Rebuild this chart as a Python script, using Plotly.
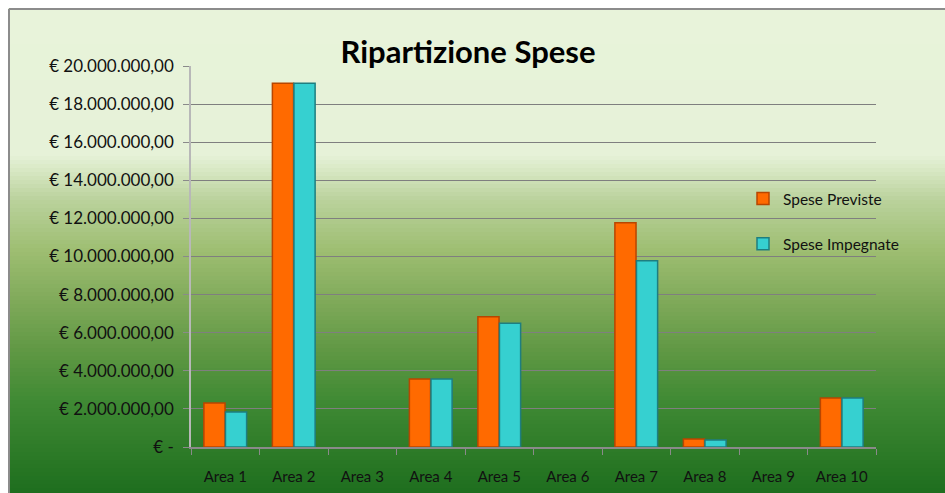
import plotly.graph_objects as go

categories = ["Area 1", "Area 2", "Area 3", "Area 4", "Area 5", "Area 6", "Area 7", "Area 8", "Area 9", "Area 10"]
spese_previste = [2310000, 19100000, 0, 3570000, 6840000, 0, 11770000, 420000, 0, 2570000]
spese_impegnate = [1840000, 19100000, 0, 3570000, 6490000, 0, 9780000, 370000, 0, 2570000]
tick_vals = [0, 2e6, 4e6, 6e6, 8e6, 10e6, 12e6, 14e6, 16e6, 18e6, 20e6]
tick_text = ["€ -", "€ 2.000.000,00", "€ 4.000.000,00", "€ 6.000.000,00", "€ 8.000.000,00",
             "€ 10.000.000,00", "€ 12.000.000,00", "€ 14.000.000,00", "€ 16.000.000,00",
             "€ 18.000.000,00", "€ 20.000.000,00"]

W, H = 945, 493
L, R, T, B = 191, 945 - 876, 66, 493 - 447
pw, ph = W - L - R, H - T - B

def px2x(px):
    return (px - L) / pw

def px2y(py):
    return (H - B - py) / ph

# background gradient stops (pixel y, rgb)
stops = [(8, (232, 243, 218)), (155, (230, 242, 216)), (170, (216, 232, 196)),
         (200, (186, 210, 156)), (250, (158, 190, 114)), (300, (128, 170, 90)),
         (350, (96, 152, 68)), (400, (64, 138, 52)), (493, (30, 110, 30))]

def color_at(py):
    for (y0, c0), (y1, c1) in zip(stops[:-1], stops[1:]):
        if y0 <= py <= y1:
            t = (py - y0) / (y1 - y0) if y1 > y0 else 0
            return tuple(round(a + (b - a) * t) for a, b in zip(c0, c1))
    return stops[-1][1]

shapes = []
step = 4
y = 8
while y < H:
    y2 = min(y + step, H)
    c = color_at((y + y2) / 2)
    shapes.append(dict(type="rect", xref="paper", yref="paper", layer="below",
                       x0=px2x(8), x1=px2x(W + 5), y0=px2y(y2 + 0.5), y1=px2y(y),
                       fillcolor="rgb(%d,%d,%d)" % c, line=dict(width=0)))
    y = y2
# top and left border lines
shapes.append(dict(type="line", xref="paper", yref="paper", layer="below",
                   x0=px2x(9), x1=px2x(W + 5), y0=px2y(9), y1=px2y(9),
                   line=dict(width=2, color="#8c8c8c")))
shapes.append(dict(type="line", xref="paper", yref="paper", layer="below",
                   x0=px2x(9), x1=px2x(9), y0=px2y(9), y1=px2y(H + 5),
                   line=dict(width=2, color="#8c8c8c")))

lw_a = [0 if v == 0 else 1.5 for v in spese_previste]
lw_b = [0 if v == 0 else 1.5 for v in spese_impegnate]

fig = go.Figure()
fig.add_trace(go.Bar(x=categories, y=spese_previste, name="Spese Previste",
                     marker=dict(color="#FF6A00", line=dict(color="#B84600", width=lw_a)),
                     legendgroup="a"))
fig.add_trace(go.Bar(x=categories, y=spese_impegnate, name="Spese Impegnate",
                     marker=dict(color="#36D0D0", line=dict(color="#1E7E80", width=lw_b)),
                     legendgroup="b"))

fig.update_layout(
    width=W, height=H,
    margin=dict(l=L, r=R, t=T, b=B, pad=0, autoexpand=False),
    paper_bgcolor="white",
    plot_bgcolor="rgba(0,0,0,0)",
    barmode="group",
    bargap=0.37,
    bargroupgap=0.02,
    shapes=shapes,
    font=dict(family="Lato, Open Sans, sans-serif", color="#1a1a1a"),
    title=dict(text="<b>Ripartizione Spese</b>", x=468 / W, xanchor="center",
               y=1 - 52 / H, yanchor="middle", font=dict(size=31, color="#000000")),
    legend=dict(x=px2x(743), y=px2y(182), xanchor="left", yanchor="top",
                bgcolor="rgba(0,0,0,0)", font=dict(size=15.5, color="#111111"),
                tracegroupgap=22, itemwidth=30),
    xaxis=dict(showgrid=False, showline=True, linecolor="#8a8a8a", linewidth=1.5,
               ticks="outside", ticklen=6, tickcolor="#8a8a8a", tickson="boundaries",
               automargin=False,
               tickfont=dict(size=15, color="#111111"), ticklabelstandoff=15),
    yaxis=dict(range=[0, 20e6], tickvals=tick_vals, ticktext=tick_text,
               showgrid=True, gridcolor="#7f7f7f", gridwidth=1,
               showline=True, linecolor="#b8b8b8", linewidth=1.5,
               ticks="outside", ticklen=6, tickcolor="#8a8a8a", automargin=False,
               zeroline=False, tickfont=dict(size=17, color="#111111"), ticklabelstandoff=6),
)

fig.write_html("out.html", config={"displayModeBar": False},
               post_script="document.body.style.margin='0';document.body.style.overflow='hidden';")
